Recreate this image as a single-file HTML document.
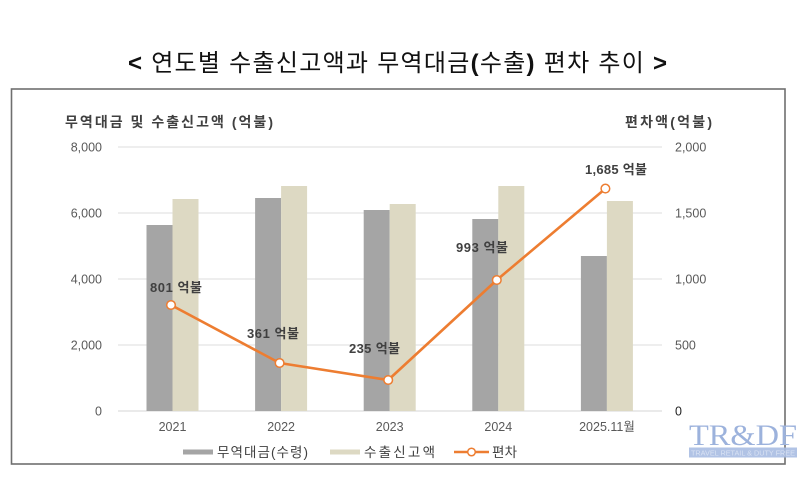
<!DOCTYPE html>
<html><head><meta charset="utf-8"><style>
html,body{margin:0;padding:0;background:#fff;}
svg{display:block;}
text{font-family:"Liberation Sans","Noto Sans CJK KR",sans-serif;}
</style></head><body>
<svg width="801" height="481" viewBox="0 0 801 481" xmlns="http://www.w3.org/2000/svg">
<rect width="801" height="481" fill="#fff"/>
<!-- title -->
<text x="128" y="71" font-size="24" fill="#111" textLength="539" lengthAdjust="spacing"><tspan font-weight="bold">&lt;</tspan> 연도별 수출신고액과 무역대금<tspan font-weight="bold">(</tspan>수출<tspan font-weight="bold">)</tspan> 편차 추이 <tspan font-weight="bold">&gt;</tspan></text>
<!-- frame -->
<rect x="11.5" y="89" width="773.5" height="375" fill="none" stroke="#6f6f6f" stroke-width="1.6"/>
<!-- axis titles -->
<text x="65" y="127" font-size="14" font-weight="bold" fill="#404040" textLength="208" lengthAdjust="spacing">무역대금 및 수출신고액 (억불)</text>
<text x="625" y="127" font-size="14" font-weight="bold" fill="#404040" textLength="87" lengthAdjust="spacing">편차액(억불)</text>
<!-- gridlines -->
<g stroke="#dedede" stroke-width="1">
<line x1="118" y1="147" x2="662" y2="147"/>
<line x1="118" y1="213" x2="662" y2="213"/>
<line x1="118" y1="279" x2="662" y2="279"/>
<line x1="118" y1="345" x2="662" y2="345"/>
<line x1="118" y1="411" x2="662" y2="411" stroke="#d6d6d6"/>
</g>
<!-- left ticks -->
<g font-size="12.5" fill="#595959" text-anchor="end">
<text x="102" y="151.5">8,000</text>
<text x="102" y="217.5">6,000</text>
<text x="102" y="283.5">4,000</text>
<text x="102" y="349.5">2,000</text>
<text x="102" y="415.5">0</text>
</g>
<!-- right ticks -->
<g font-size="12.5" fill="#595959">
<text x="675" y="151.5">2,000</text>
<text x="675" y="217.5">1,500</text>
<text x="675" y="283.5">1,000</text>
<text x="675" y="349.5">500</text>
<text x="675" y="415.5" fill="#222">0</text>
</g>
<!-- bars -->
<g fill="#a5a5a5">
<rect x="146.5" y="225" width="26" height="186"/>
<rect x="255.1" y="198" width="26" height="213"/>
<rect x="363.7" y="210" width="26" height="201"/>
<rect x="472.3" y="219" width="26" height="192"/>
<rect x="580.9" y="256" width="26" height="155"/>
</g>
<g fill="#ddd9c3">
<rect x="172.5" y="199" width="26" height="212"/>
<rect x="281.1" y="186" width="26" height="225"/>
<rect x="389.7" y="204" width="26" height="207"/>
<rect x="498.3" y="186" width="26" height="225"/>
<rect x="606.9" y="201" width="26" height="210"/>
</g>
<!-- line -->
<polyline points="171,305 279.6,363 388.2,380 496.8,280 605.4,188.6" fill="none" stroke="#ed7d31" stroke-width="2.6" stroke-linejoin="round"/>
<g fill="#fff" stroke="#ed7d31" stroke-width="1.5">
<circle cx="171" cy="305" r="4.3"/>
<circle cx="279.6" cy="363" r="4.3"/>
<circle cx="388.2" cy="380" r="4.3"/>
<circle cx="496.8" cy="280" r="4.3"/>
<circle cx="605.4" cy="188.6" r="4.3"/>
</g>
<!-- data labels -->
<g font-size="13" font-weight="bold" fill="#404040">
<text x="150" y="292" textLength="52" lengthAdjust="spacing">801 억불</text>
<text x="247" y="338" textLength="52" lengthAdjust="spacing">361 억불</text>
<text x="349" y="353" textLength="51" lengthAdjust="spacing">235 억불</text>
<text x="456" y="252" textLength="52" lengthAdjust="spacing">993 억불</text>
<text x="585" y="174" textLength="62" lengthAdjust="spacing">1,685 억불</text>
</g>
<!-- x labels -->
<g font-size="12.5" fill="#595959" text-anchor="middle">
<text x="172.5" y="431">2021</text>
<text x="281.1" y="431">2022</text>
<text x="389.7" y="431">2023</text>
<text x="498.3" y="431">2024</text>
<text x="607" y="431">2025.11월</text>
</g>
<!-- legend -->
<rect x="183" y="449.5" width="30" height="5" fill="#a5a5a5"/>
<text x="217" y="457" font-size="13.5" fill="#404040" textLength="91" lengthAdjust="spacing">무역대금(수령)</text>
<rect x="330" y="449.5" width="30" height="5" fill="#ddd9c3"/>
<text x="364" y="457" font-size="13.5" fill="#404040" textLength="71" lengthAdjust="spacing">수출신고액</text>
<line x1="454" y1="452" x2="489" y2="452" stroke="#ed7d31" stroke-width="2.6"/>
<circle cx="471.5" cy="452" r="3.8" fill="#fff" stroke="#ed7d31" stroke-width="1.5"/>
<text x="492" y="457" font-size="13.5" fill="#404040" textLength="25" lengthAdjust="spacing">편차</text>
<!-- logo -->
<text x="689" y="445" style="font-family:'Liberation Serif','DejaVu Serif',serif" font-size="30" fill="#9cb2dc" textLength="108" lengthAdjust="spacingAndGlyphs">TR&amp;DF</text>
<rect x="689" y="447.5" width="108" height="10" fill="#a9bde2" opacity="0.9"/>
<text x="691" y="455.5" font-size="7.5" fill="#d9e2f3" textLength="104" lengthAdjust="spacingAndGlyphs">TRAVEL RETAIL &amp; DUTY FREE</text>
</svg>
</body></html>
